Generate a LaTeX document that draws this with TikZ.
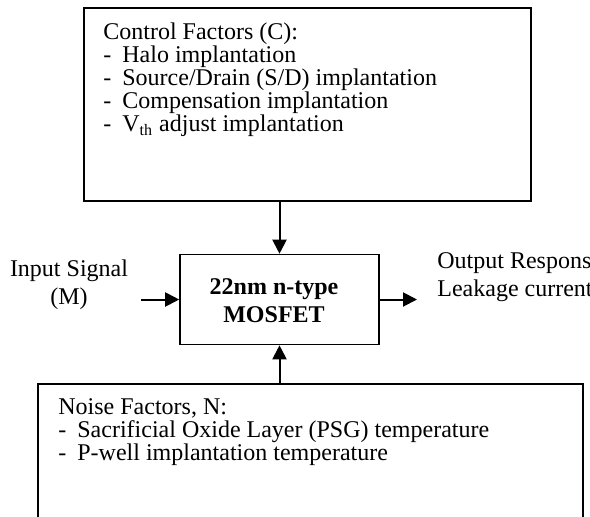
\documentclass[tikz,border=0pt]{standalone}
\usepackage{fontspec}
\setmainfont{Liberation Serif}
\usetikzlibrary{arrows.meta, positioning}

\newcommand{\dashitem}[1]{\makebox[9.5pt][l]{-}#1}

\begin{document}
\begin{tikzpicture}[
    x=0.5pt, y=-0.5pt,
    >={Triangle[length=7pt, width=7pt]},
    font=\fontsize{12}{10.875}\selectfont,
    box/.style={draw, rectangle, line width=0.8pt, inner sep=0pt},
    txt/.style={inner sep=0pt, anchor=base west},
    loose/.style={font=\fontsize{12}{14}\selectfont},
    link/.style={->, line width=1pt},
]
\useasboundingbox (0,0) rectangle (590,516);
\clip (0,0) rectangle (590,516);

% === Control factors (top box) ===
\node[box, anchor=north west, minimum width=223.5pt, minimum height=96.5pt]
     (ctrl) at (83, 7) {};
\node[txt] (ctrltxt) at (103, 39) {\begin{tabular}[t]{@{}l@{}}
    Control Factors (C):\\
    \dashitem{Halo implantation}\\
    \dashitem{Source/Drain (S/D) implantation}\\
    \dashitem{Compensation implantation}\\
    \dashitem{V\textsubscript{th} adjust implantation}
\end{tabular}};

% === Process block ===
\node[box, minimum width=99.5pt, minimum height=45pt] (mosfet) at (279.5, 299.5) {};
\node[txt, loose, anchor=base] (mosfettxt) at (274, 294) {\bfseries
    \begin{tabular}[t]{@{}c@{}}22nm n-type\\ MOSFET\end{tabular}};

% === Input / output ===
\node[txt, loose, anchor=base] (insig) at (69, 276) {\begin{tabular}[t]{@{}c@{}}
    Input Signal\\ (M)\end{tabular}};
\node[txt, loose] (outresp) at (437, 268) {\begin{tabular}[t]{@{}l@{}}
    Output Response\\ Leakage current\end{tabular}};
\coordinate (instart) at (141, 299.5);
\coordinate (outend) at (417, 299.5);

% === Noise factors (bottom box) ===
\node[box, anchor=north west, minimum width=272.5pt, minimum height=80pt]
     (noise) at (37, 383) {};
\node[txt] (noisetxt) at (58, 414) {\begin{tabular}[t]{@{}l@{}}
    Noise Factors, N:\\
    \dashitem{Sacrificial Oxide Layer (PSG) temperature}\\
    \dashitem{P-well implantation temperature}
\end{tabular}};

% === Arrows ===
\draw[link] (mosfet.north |- ctrl.south) -- (mosfet.north);
\draw[link] (mosfet.south |- noise.north) -- (mosfet.south);
\draw[link] (instart) -- (mosfet.west);
\draw[link] (mosfet.east) -- (outend);

\end{tikzpicture}
\end{document}
